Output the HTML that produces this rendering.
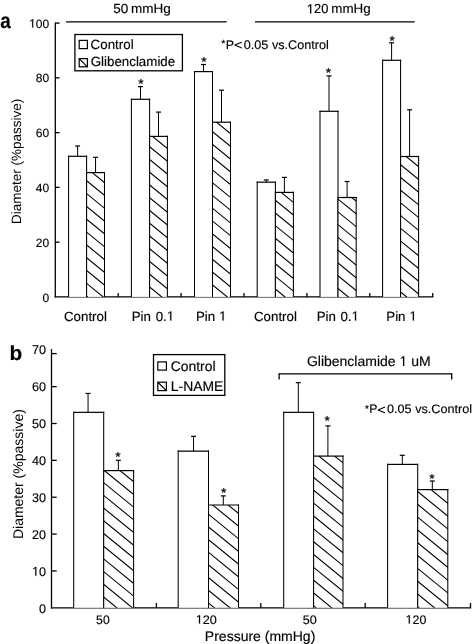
<!DOCTYPE html>
<html><head><meta charset="utf-8"><style>
html,body{margin:0;padding:0;background:#fff;}
body{width:476px;height:644px;overflow:hidden;}
svg{display:block;will-change:transform;}
text{font-family:"Liberation Sans",sans-serif;font-kerning:none;text-rendering:geometricPrecision;}
</style></head><body>
<svg width="476" height="644" viewBox="0 0 476 644">
<rect width="476" height="644" fill="#fff"/>
<text x="0.25" y="28.00" textLength="10.53" lengthAdjust="spacingAndGlyphs" style="font-size:21.5px;font-weight:bold;fill:#000;stroke:#000;stroke-width:0.15px;">a</text>
<line x1="55.30" y1="22.40" x2="55.30" y2="297.55" stroke="#000" stroke-width="1.3"/>
<line x1="54.65" y1="296.90" x2="433.25" y2="296.90" stroke="#000" stroke-width="1.3"/>
<text x="42.49" y="302.30" style="font-size:12px;fill:#000;stroke:#000;stroke-width:0.15px;">0</text>
<line x1="55.30" y1="242.14" x2="59.60" y2="242.14" stroke="#000" stroke-width="1.3"/>
<text x="35.82" y="246.64" style="font-size:12px;fill:#000;stroke:#000;stroke-width:0.15px;">20</text>
<line x1="55.30" y1="187.38" x2="59.60" y2="187.38" stroke="#000" stroke-width="1.3"/>
<text x="35.82" y="191.88" style="font-size:12px;fill:#000;stroke:#000;stroke-width:0.15px;">40</text>
<line x1="55.30" y1="132.62" x2="59.60" y2="132.62" stroke="#000" stroke-width="1.3"/>
<text x="35.82" y="137.12" style="font-size:12px;fill:#000;stroke:#000;stroke-width:0.15px;">60</text>
<line x1="55.30" y1="77.86" x2="59.60" y2="77.86" stroke="#000" stroke-width="1.3"/>
<text x="35.82" y="82.36" style="font-size:12px;fill:#000;stroke:#000;stroke-width:0.15px;">80</text>
<line x1="55.30" y1="23.10" x2="59.60" y2="23.10" stroke="#000" stroke-width="1.3"/>
<text x="29.15" y="27.60" style="font-size:12px;fill:#000;stroke:#000;stroke-width:0.15px;"> 00</text>
<polygon points="32.16,27.60 32.16,20.35 30.30,21.68 30.30,20.69 32.25,19.34 33.23,19.34 33.23,27.60" fill="#000" stroke="#000" stroke-width="0.15"/>
<line x1="118.20" y1="292.90" x2="118.20" y2="296.90" stroke="#000" stroke-width="1.3"/>
<line x1="181.10" y1="292.90" x2="181.10" y2="296.90" stroke="#000" stroke-width="1.3"/>
<line x1="244.00" y1="292.90" x2="244.00" y2="296.90" stroke="#000" stroke-width="1.3"/>
<line x1="306.90" y1="292.90" x2="306.90" y2="296.90" stroke="#000" stroke-width="1.3"/>
<line x1="369.80" y1="292.90" x2="369.80" y2="296.90" stroke="#000" stroke-width="1.3"/>
<line x1="432.70" y1="292.90" x2="432.70" y2="296.90" stroke="#000" stroke-width="1.3"/>
<text transform="translate(17.00,161.20) rotate(-90)" x="-62.78" y="3.49" style="font-size:13.5px">Diameter (%passive)</text>
<line x1="66.00" y1="21.90" x2="226.70" y2="21.90" stroke="#000" stroke-width="1.2"/>
<line x1="255.00" y1="21.90" x2="414.80" y2="21.90" stroke="#000" stroke-width="1.2"/>
<text x="113.26" y="13.45" textLength="15.07" lengthAdjust="spacingAndGlyphs" style="font-size:13.25px;fill:#000;stroke:#000;stroke-width:0.15px;">50</text>
<text x="130.90" y="13.45" textLength="39.87" lengthAdjust="spacingAndGlyphs" style="font-size:13.25px;fill:#000;stroke:#000;stroke-width:0.15px;">mmHg</text>
<text x="306.86" y="13.45" textLength="21.55" lengthAdjust="spacingAndGlyphs" style="font-size:13.25px;fill:#000;stroke:#000;stroke-width:0.15px;"> 20</text>
<polygon points="310.11,13.45 310.11,5.45 308.10,6.92 308.10,5.82 310.20,4.33 311.25,4.33 311.25,13.45" fill="#000" stroke="#000" stroke-width="0.15"/>
<text x="331.31" y="13.45" textLength="39.45" lengthAdjust="spacingAndGlyphs" style="font-size:13.25px;fill:#000;stroke:#000;stroke-width:0.15px;">mmHg</text>
<line x1="77.60" y1="156.30" x2="77.60" y2="146.00" stroke="#000" stroke-width="1.0"/>
<line x1="75.10" y1="146.00" x2="80.10" y2="146.00" stroke="#000" stroke-width="1.2"/>
<rect x="68.60" y="156.30" width="18.00" height="140.60" fill="#fff"/>
<line x1="68.60" y1="155.70" x2="68.60" y2="296.90" stroke="#000" stroke-width="1.05"/>
<line x1="86.60" y1="155.70" x2="86.60" y2="296.90" stroke="#000" stroke-width="1.05"/>
<line x1="68.07" y1="156.30" x2="87.12" y2="156.30" stroke="#000" stroke-width="1.2"/>
<line x1="95.55" y1="172.60" x2="95.55" y2="157.30" stroke="#000" stroke-width="1.0"/>
<line x1="93.05" y1="157.30" x2="98.05" y2="157.30" stroke="#000" stroke-width="1.2"/>
<rect x="86.60" y="172.60" width="17.90" height="124.30" fill="#fff"/>
<clipPath id="c38"><rect x="86.60" y="172.60" width="17.90" height="124.30"/></clipPath>
<path clip-path="url(#c38)" d="M84.60,140.70L106.50,158.54M84.60,153.52L106.50,171.37M84.60,166.35L106.50,184.19M84.60,179.17L106.50,197.02M84.60,192.00L106.50,209.84M84.60,204.82L106.50,222.67M84.60,217.65L106.50,235.49M84.60,230.47L106.50,248.32M84.60,243.30L106.50,261.14M84.60,256.12L106.50,273.97M84.60,268.94L106.50,286.79M84.60,281.77L106.50,299.62M84.60,294.60L106.50,312.44M84.60,307.42L106.50,325.27M84.60,320.25L106.50,338.09" stroke="#000" stroke-width="1.1" fill="none"/>
<line x1="86.60" y1="172.00" x2="86.60" y2="296.90" stroke="#000" stroke-width="1.05"/>
<line x1="104.50" y1="172.00" x2="104.50" y2="296.90" stroke="#000" stroke-width="1.05"/>
<line x1="86.07" y1="172.60" x2="105.03" y2="172.60" stroke="#000" stroke-width="1.2"/>
<line x1="140.50" y1="99.30" x2="140.50" y2="86.60" stroke="#000" stroke-width="1.0"/>
<line x1="138.00" y1="86.60" x2="143.00" y2="86.60" stroke="#000" stroke-width="1.2"/>
<rect x="131.40" y="99.30" width="18.20" height="197.60" fill="#fff"/>
<line x1="131.40" y1="98.70" x2="131.40" y2="296.90" stroke="#000" stroke-width="1.05"/>
<line x1="149.60" y1="98.70" x2="149.60" y2="296.90" stroke="#000" stroke-width="1.05"/>
<line x1="130.88" y1="99.30" x2="150.12" y2="99.30" stroke="#000" stroke-width="1.2"/>
<line x1="158.50" y1="136.40" x2="158.50" y2="112.10" stroke="#000" stroke-width="1.0"/>
<line x1="156.00" y1="112.10" x2="161.00" y2="112.10" stroke="#000" stroke-width="1.2"/>
<rect x="149.60" y="136.40" width="17.80" height="160.50" fill="#fff"/>
<clipPath id="c52"><rect x="149.60" y="136.40" width="17.80" height="160.50"/></clipPath>
<path clip-path="url(#c52)" d="M147.60,106.94L169.40,124.70M147.60,119.68L169.40,137.45M147.60,132.43L169.40,150.19M147.60,145.17L169.40,162.94M147.60,157.92L169.40,175.68M147.60,170.66L169.40,188.43M147.60,183.41L169.40,201.17M147.60,196.15L169.40,213.92M147.60,208.90L169.40,226.66M147.60,221.64L169.40,239.41M147.60,234.38L169.40,252.15M147.60,247.13L169.40,264.90M147.60,259.88L169.40,277.64M147.60,272.62L169.40,290.39M147.60,285.37L169.40,303.13M147.60,298.11L169.40,315.88M147.60,310.86L169.40,328.62" stroke="#000" stroke-width="1.1" fill="none"/>
<line x1="149.60" y1="135.80" x2="149.60" y2="296.90" stroke="#000" stroke-width="1.05"/>
<line x1="167.40" y1="135.80" x2="167.40" y2="296.90" stroke="#000" stroke-width="1.05"/>
<line x1="149.07" y1="136.40" x2="167.93" y2="136.40" stroke="#000" stroke-width="1.2"/>
<line x1="203.50" y1="71.60" x2="203.50" y2="64.50" stroke="#000" stroke-width="1.0"/>
<line x1="201.00" y1="64.50" x2="206.00" y2="64.50" stroke="#000" stroke-width="1.2"/>
<rect x="194.50" y="71.60" width="18.00" height="225.30" fill="#fff"/>
<line x1="194.50" y1="71.00" x2="194.50" y2="296.90" stroke="#000" stroke-width="1.05"/>
<line x1="212.50" y1="71.00" x2="212.50" y2="296.90" stroke="#000" stroke-width="1.05"/>
<line x1="193.97" y1="71.60" x2="213.03" y2="71.60" stroke="#000" stroke-width="1.2"/>
<line x1="221.50" y1="122.20" x2="221.50" y2="90.20" stroke="#000" stroke-width="1.0"/>
<line x1="219.00" y1="90.20" x2="224.00" y2="90.20" stroke="#000" stroke-width="1.2"/>
<rect x="212.50" y="122.20" width="18.00" height="174.70" fill="#fff"/>
<clipPath id="c66"><rect x="212.50" y="122.20" width="18.00" height="174.70"/></clipPath>
<path clip-path="url(#c66)" d="M210.50,91.77L232.50,109.70M210.50,104.54L232.50,122.47M210.50,117.30L232.50,135.23M210.50,130.07L232.50,148.00M210.50,142.84L232.50,160.77M210.50,155.60L232.50,173.53M210.50,168.37L232.50,186.30M210.50,181.14L232.50,199.07M210.50,193.90L232.50,211.83M210.50,206.67L232.50,224.60M210.50,219.44L232.50,237.37M210.50,232.21L232.50,250.14M210.50,244.97L232.50,262.90M210.50,257.74L232.50,275.67M210.50,270.51L232.50,288.44M210.50,283.27L232.50,301.20M210.50,296.04L232.50,313.97M210.50,308.81L232.50,326.74" stroke="#000" stroke-width="1.1" fill="none"/>
<line x1="212.50" y1="121.60" x2="212.50" y2="296.90" stroke="#000" stroke-width="1.05"/>
<line x1="230.50" y1="121.60" x2="230.50" y2="296.90" stroke="#000" stroke-width="1.05"/>
<line x1="211.97" y1="122.20" x2="231.03" y2="122.20" stroke="#000" stroke-width="1.2"/>
<line x1="266.30" y1="182.20" x2="266.30" y2="180.00" stroke="#000" stroke-width="1.0"/>
<line x1="263.80" y1="180.00" x2="268.80" y2="180.00" stroke="#000" stroke-width="1.2"/>
<rect x="257.20" y="182.20" width="18.20" height="114.70" fill="#fff"/>
<line x1="257.20" y1="181.60" x2="257.20" y2="296.90" stroke="#000" stroke-width="1.05"/>
<line x1="275.40" y1="181.60" x2="275.40" y2="296.90" stroke="#000" stroke-width="1.05"/>
<line x1="256.68" y1="182.20" x2="275.92" y2="182.20" stroke="#000" stroke-width="1.2"/>
<line x1="284.40" y1="192.40" x2="284.40" y2="177.40" stroke="#000" stroke-width="1.0"/>
<line x1="281.90" y1="177.40" x2="286.90" y2="177.40" stroke="#000" stroke-width="1.2"/>
<rect x="275.40" y="192.40" width="18.00" height="104.50" fill="#fff"/>
<clipPath id="c80"><rect x="275.40" y="192.40" width="18.00" height="104.50"/></clipPath>
<path clip-path="url(#c80)" d="M273.40,160.76L295.40,178.69M273.40,173.43L295.40,191.36M273.40,186.10L295.40,204.03M273.40,198.77L295.40,216.70M273.40,211.44L295.40,229.37M273.40,224.11L295.40,242.04M273.40,236.78L295.40,254.71M273.40,249.45L295.40,267.38M273.40,262.12L295.40,280.06M273.40,274.80L295.40,292.73M273.40,287.47L295.40,305.40M273.40,300.14L295.40,318.07M273.40,312.81L295.40,330.74" stroke="#000" stroke-width="1.1" fill="none"/>
<line x1="275.40" y1="191.80" x2="275.40" y2="296.90" stroke="#000" stroke-width="1.05"/>
<line x1="293.40" y1="191.80" x2="293.40" y2="296.90" stroke="#000" stroke-width="1.05"/>
<line x1="274.88" y1="192.40" x2="293.92" y2="192.40" stroke="#000" stroke-width="1.2"/>
<line x1="329.00" y1="111.30" x2="329.00" y2="75.90" stroke="#000" stroke-width="1.0"/>
<line x1="326.50" y1="75.90" x2="331.50" y2="75.90" stroke="#000" stroke-width="1.2"/>
<rect x="320.00" y="111.30" width="18.00" height="185.60" fill="#fff"/>
<line x1="320.00" y1="110.70" x2="320.00" y2="296.90" stroke="#000" stroke-width="1.05"/>
<line x1="338.00" y1="110.70" x2="338.00" y2="296.90" stroke="#000" stroke-width="1.05"/>
<line x1="319.48" y1="111.30" x2="338.52" y2="111.30" stroke="#000" stroke-width="1.2"/>
<line x1="347.10" y1="197.50" x2="347.10" y2="181.50" stroke="#000" stroke-width="1.0"/>
<line x1="344.60" y1="181.50" x2="349.60" y2="181.50" stroke="#000" stroke-width="1.2"/>
<rect x="338.00" y="197.50" width="18.20" height="99.40" fill="#fff"/>
<clipPath id="c94"><rect x="338.00" y="197.50" width="18.20" height="99.40"/></clipPath>
<path clip-path="url(#c94)" d="M336.00,159.16L358.20,177.25M336.00,171.93L358.20,190.02M336.00,184.70L358.20,202.79M336.00,197.47L358.20,215.56M336.00,210.24L358.20,228.33M336.00,223.01L358.20,241.10M336.00,235.78L358.20,253.88M336.00,248.55L358.20,266.65M336.00,261.32L358.20,279.42M336.00,274.10L358.20,292.19M336.00,286.87L358.20,304.96M336.00,299.64L358.20,317.73M336.00,312.41L358.20,330.50" stroke="#000" stroke-width="1.1" fill="none"/>
<line x1="338.00" y1="196.90" x2="338.00" y2="296.90" stroke="#000" stroke-width="1.05"/>
<line x1="356.20" y1="196.90" x2="356.20" y2="296.90" stroke="#000" stroke-width="1.05"/>
<line x1="337.48" y1="197.50" x2="356.72" y2="197.50" stroke="#000" stroke-width="1.2"/>
<line x1="391.60" y1="60.30" x2="391.60" y2="42.80" stroke="#000" stroke-width="1.0"/>
<line x1="389.10" y1="42.80" x2="394.10" y2="42.80" stroke="#000" stroke-width="1.2"/>
<rect x="382.60" y="60.30" width="18.00" height="236.60" fill="#fff"/>
<line x1="382.60" y1="59.70" x2="382.60" y2="296.90" stroke="#000" stroke-width="1.05"/>
<line x1="400.60" y1="59.70" x2="400.60" y2="296.90" stroke="#000" stroke-width="1.05"/>
<line x1="382.08" y1="60.30" x2="401.12" y2="60.30" stroke="#000" stroke-width="1.2"/>
<line x1="409.60" y1="156.50" x2="409.60" y2="109.80" stroke="#000" stroke-width="1.0"/>
<line x1="407.10" y1="109.80" x2="412.10" y2="109.80" stroke="#000" stroke-width="1.2"/>
<rect x="400.60" y="156.50" width="18.00" height="140.40" fill="#fff"/>
<clipPath id="c108"><rect x="400.60" y="156.50" width="18.00" height="140.40"/></clipPath>
<path clip-path="url(#c108)" d="M398.60,124.88L420.60,142.81M398.60,137.61L420.60,155.54M398.60,150.34L420.60,168.27M398.60,163.07L420.60,181.00M398.60,175.80L420.60,193.73M398.60,188.53L420.60,206.46M398.60,201.26L420.60,219.19M398.60,213.99L420.60,231.92M398.60,226.72L420.60,244.65M398.60,239.45L420.60,257.38M398.60,252.18L420.60,270.11M398.60,264.91L420.60,282.84M398.60,277.64L420.60,295.57M398.60,290.37L420.60,308.30M398.60,303.10L420.60,321.03M398.60,315.83L420.60,333.76" stroke="#000" stroke-width="1.1" fill="none"/>
<line x1="400.60" y1="155.90" x2="400.60" y2="296.90" stroke="#000" stroke-width="1.05"/>
<line x1="418.60" y1="155.90" x2="418.60" y2="296.90" stroke="#000" stroke-width="1.05"/>
<line x1="400.08" y1="156.50" x2="419.12" y2="156.50" stroke="#000" stroke-width="1.2"/>
<text x="138.23" y="87.61" textLength="5.34" lengthAdjust="spacingAndGlyphs" style="font-size:12.8px;fill:#000;stroke:#000;stroke-width:0.25px;">*</text>
<text x="201.28" y="65.71" textLength="5.34" lengthAdjust="spacingAndGlyphs" style="font-size:12.8px;fill:#000;stroke:#000;stroke-width:0.25px;">*</text>
<text x="325.78" y="77.31" textLength="5.34" lengthAdjust="spacingAndGlyphs" style="font-size:12.8px;fill:#000;stroke:#000;stroke-width:0.25px;">*</text>
<text x="389.63" y="45.21" textLength="5.34" lengthAdjust="spacingAndGlyphs" style="font-size:12.8px;fill:#000;stroke:#000;stroke-width:0.25px;">*</text>
<rect x="74.90" y="34.50" width="107.50" height="36.30" fill="#fff" stroke="#000" stroke-width="1.3"/>
<rect x="79.20" y="40.40" width="8.20" height="8.20" fill="#fff" stroke="#000" stroke-width="1.2"/>
<rect x="79.20" y="58.60" width="8.20" height="8.20" fill="#fff" stroke="#000" stroke-width="1.2"/>
<line x1="79.20" y1="58.60" x2="87.40" y2="66.80" stroke="#000" stroke-width="1.2"/>
<text x="90.62" y="48.50" textLength="43.07" lengthAdjust="spacingAndGlyphs" style="font-size:13.35px;fill:#000;stroke:#000;stroke-width:0.15px;">Control</text>
<text x="90.73" y="66.40" textLength="84.46" lengthAdjust="spacingAndGlyphs" style="font-size:13.35px;fill:#000;stroke:#000;stroke-width:0.15px;">Glibenclamide</text>
<text x="221.23" y="47.02" style="font-size:10.5px;fill:#000;stroke:#000;stroke-width:0.15px;">*</text>
<text x="225.78" y="48.60" style="font-size:12.45px;fill:#000;stroke:#000;stroke-width:0.15px;">P</text>
<polyline points="241.7,42.2 234.7,45.1 241.7,47.9" fill="none" stroke="#000" stroke-width="1.05" stroke-linejoin="bevel"/>
<text x="243.81" y="48.60" textLength="85.04" lengthAdjust="spacingAndGlyphs" style="font-size:12.45px;fill:#000;stroke:#000;stroke-width:0.15px;">0.05 vs.Control</text>
<text x="64.02" y="320.60" style="font-size:13.3px;fill:#000;stroke:#000;stroke-width:0.15px;">Control</text>
<text x="131.71" y="320.60" style="font-size:13.3px;fill:#000;stroke:#000;stroke-width:0.15px;">Pin</text>
<text x="195.91" y="320.60" style="font-size:13.3px;fill:#000;stroke:#000;stroke-width:0.15px;">Pin</text>
<text x="254.02" y="320.60" style="font-size:13.3px;fill:#000;stroke:#000;stroke-width:0.15px;">Control</text>
<text x="316.71" y="320.60" style="font-size:13.3px;fill:#000;stroke:#000;stroke-width:0.15px;">Pin</text>
<text x="386.31" y="320.60" style="font-size:13.3px;fill:#000;stroke:#000;stroke-width:0.15px;">Pin</text>
<text x="155.73" y="320.60" style="font-size:13.3px;fill:#000;stroke:#000;stroke-width:0.15px;">0. </text>
<polygon points="170.17,320.60 170.17,312.57 168.11,314.04 168.11,312.94 170.27,311.45 171.35,311.45 171.35,320.60" fill="#000" stroke="#000" stroke-width="0.15"/>
<text x="219.10" y="320.60" style="font-size:13.3px;fill:#000;stroke:#000;stroke-width:0.15px;"> </text>
<polygon points="222.44,320.60 222.44,312.57 220.38,314.04 220.38,312.94 222.54,311.45 223.62,311.45 223.62,320.60" fill="#000" stroke="#000" stroke-width="0.15"/>
<text x="340.48" y="320.60" style="font-size:13.3px;fill:#000;stroke:#000;stroke-width:0.15px;">0. </text>
<polygon points="354.92,320.60 354.92,312.57 352.86,314.04 352.86,312.94 355.02,311.45 356.10,311.45 356.10,320.60" fill="#000" stroke="#000" stroke-width="0.15"/>
<text x="409.45" y="320.60" style="font-size:13.3px;fill:#000;stroke:#000;stroke-width:0.15px;"> </text>
<polygon points="412.79,320.60 412.79,312.57 410.73,314.04 410.73,312.94 412.89,311.45 413.97,311.45 413.97,320.60" fill="#000" stroke="#000" stroke-width="0.15"/>
<text x="9.53" y="359.60" textLength="12.73" lengthAdjust="spacingAndGlyphs" style="font-size:20.3px;font-weight:bold;fill:#000;stroke:#000;stroke-width:0.15px;">b</text>
<line x1="51.50" y1="349.00" x2="51.50" y2="608.45" stroke="#000" stroke-width="1.3"/>
<line x1="50.85" y1="607.80" x2="471.15" y2="607.80" stroke="#000" stroke-width="1.3"/>
<text x="39.08" y="612.90" style="font-size:12.6px;fill:#000;stroke:#000;stroke-width:0.15px;">0</text>
<line x1="51.50" y1="570.94" x2="56.70" y2="570.94" stroke="#000" stroke-width="1.3"/>
<text x="32.08" y="575.64" style="font-size:12.6px;fill:#000;stroke:#000;stroke-width:0.15px;"> 0</text>
<polygon points="35.25,575.64 35.25,568.03 33.29,569.43 33.29,568.38 35.34,566.97 36.36,566.97 36.36,575.64" fill="#000" stroke="#000" stroke-width="0.15"/>
<line x1="51.50" y1="534.08" x2="56.70" y2="534.08" stroke="#000" stroke-width="1.3"/>
<text x="32.08" y="538.78" style="font-size:12.6px;fill:#000;stroke:#000;stroke-width:0.15px;">20</text>
<line x1="51.50" y1="497.22" x2="56.70" y2="497.22" stroke="#000" stroke-width="1.3"/>
<text x="32.08" y="501.92" style="font-size:12.6px;fill:#000;stroke:#000;stroke-width:0.15px;">30</text>
<line x1="51.50" y1="460.36" x2="56.70" y2="460.36" stroke="#000" stroke-width="1.3"/>
<text x="32.08" y="465.06" style="font-size:12.6px;fill:#000;stroke:#000;stroke-width:0.15px;">40</text>
<line x1="51.50" y1="423.50" x2="56.70" y2="423.50" stroke="#000" stroke-width="1.3"/>
<text x="32.08" y="428.20" style="font-size:12.6px;fill:#000;stroke:#000;stroke-width:0.15px;">50</text>
<line x1="51.50" y1="386.64" x2="56.70" y2="386.64" stroke="#000" stroke-width="1.3"/>
<text x="32.08" y="391.34" style="font-size:12.6px;fill:#000;stroke:#000;stroke-width:0.15px;">60</text>
<text x="32.08" y="354.48" style="font-size:12.6px;fill:#000;stroke:#000;stroke-width:0.15px;">70</text>
<line x1="51.50" y1="353.60" x2="56.70" y2="353.60" stroke="#000" stroke-width="1.3"/>
<line x1="156.40" y1="603.00" x2="156.40" y2="607.80" stroke="#000" stroke-width="1.3"/>
<line x1="260.80" y1="603.00" x2="260.80" y2="607.80" stroke="#000" stroke-width="1.3"/>
<line x1="365.20" y1="603.00" x2="365.20" y2="607.80" stroke="#000" stroke-width="1.3"/>
<line x1="470.50" y1="603.00" x2="470.50" y2="607.80" stroke="#000" stroke-width="1.3"/>
<text transform="translate(18.90,474.00) rotate(-90)" x="-65.10" y="3.62" style="font-size:14px">Diameter (%passive)</text>
<line x1="88.05" y1="412.35" x2="88.05" y2="393.45" stroke="#000" stroke-width="1.0"/>
<line x1="85.55" y1="393.45" x2="90.55" y2="393.45" stroke="#000" stroke-width="1.2"/>
<rect x="73.70" y="412.35" width="30.00" height="195.45" fill="#fff"/>
<line x1="73.70" y1="411.75" x2="73.70" y2="607.80" stroke="#000" stroke-width="1.05"/>
<line x1="103.70" y1="411.75" x2="103.70" y2="607.80" stroke="#000" stroke-width="1.05"/>
<line x1="73.17" y1="412.35" x2="104.23" y2="412.35" stroke="#000" stroke-width="1.2"/>
<line x1="118.35" y1="470.60" x2="118.35" y2="460.30" stroke="#000" stroke-width="1.0"/>
<line x1="115.85" y1="460.30" x2="120.85" y2="460.30" stroke="#000" stroke-width="1.2"/>
<rect x="103.70" y="470.60" width="29.90" height="137.20" fill="#fff"/>
<clipPath id="c174"><rect x="103.70" y="470.60" width="29.90" height="137.20"/></clipPath>
<path clip-path="url(#c174)" d="M101.70,430.24L135.60,457.87M101.70,442.95L135.60,470.58M101.70,455.66L135.60,483.29M101.70,468.37L135.60,496.00M101.70,481.08L135.60,508.71M101.70,493.79L135.60,521.42M101.70,506.50L135.60,534.13M101.70,519.21L135.60,546.84M101.70,531.92L135.60,559.55M101.70,544.63L135.60,572.26M101.70,557.34L135.60,584.97M101.70,570.05L135.60,597.68M101.70,582.76L135.60,610.39M101.70,595.47L135.60,623.10M101.70,608.18L135.60,635.81M101.70,620.89L135.60,648.52" stroke="#000" stroke-width="1.1" fill="none"/>
<line x1="103.70" y1="470.00" x2="103.70" y2="607.80" stroke="#000" stroke-width="1.05"/>
<line x1="133.60" y1="470.00" x2="133.60" y2="607.80" stroke="#000" stroke-width="1.05"/>
<line x1="103.17" y1="470.60" x2="134.12" y2="470.60" stroke="#000" stroke-width="1.2"/>
<line x1="193.55" y1="451.10" x2="193.55" y2="436.35" stroke="#000" stroke-width="1.0"/>
<line x1="191.05" y1="436.35" x2="196.05" y2="436.35" stroke="#000" stroke-width="1.2"/>
<rect x="178.20" y="451.10" width="30.30" height="156.70" fill="#fff"/>
<line x1="178.20" y1="450.50" x2="178.20" y2="607.80" stroke="#000" stroke-width="1.05"/>
<line x1="208.50" y1="450.50" x2="208.50" y2="607.80" stroke="#000" stroke-width="1.05"/>
<line x1="177.67" y1="451.10" x2="209.03" y2="451.10" stroke="#000" stroke-width="1.2"/>
<line x1="223.30" y1="505.00" x2="223.30" y2="495.90" stroke="#000" stroke-width="1.0"/>
<line x1="220.80" y1="495.90" x2="225.80" y2="495.90" stroke="#000" stroke-width="1.2"/>
<rect x="208.50" y="505.00" width="30.00" height="102.80" fill="#fff"/>
<clipPath id="c188"><rect x="208.50" y="505.00" width="30.00" height="102.80"/></clipPath>
<path clip-path="url(#c188)" d="M206.50,461.99L240.50,489.70M206.50,474.66L240.50,502.37M206.50,487.33L240.50,515.04M206.50,500.00L240.50,527.71M206.50,512.67L240.50,540.38M206.50,525.34L240.50,553.05M206.50,538.01L240.50,565.72M206.50,550.68L240.50,578.39M206.50,563.35L240.50,591.06M206.50,576.02L240.50,603.74M206.50,588.70L240.50,616.41M206.50,601.37L240.50,629.08M206.50,614.04L240.50,641.75M206.50,626.71L240.50,654.42" stroke="#000" stroke-width="1.1" fill="none"/>
<line x1="208.50" y1="504.40" x2="208.50" y2="607.80" stroke="#000" stroke-width="1.05"/>
<line x1="238.50" y1="504.40" x2="238.50" y2="607.80" stroke="#000" stroke-width="1.05"/>
<line x1="207.97" y1="505.00" x2="239.03" y2="505.00" stroke="#000" stroke-width="1.2"/>
<line x1="298.30" y1="412.35" x2="298.30" y2="382.66" stroke="#000" stroke-width="1.0"/>
<line x1="295.80" y1="382.66" x2="300.80" y2="382.66" stroke="#000" stroke-width="1.2"/>
<rect x="283.70" y="412.35" width="29.90" height="195.45" fill="#fff"/>
<line x1="283.70" y1="411.75" x2="283.70" y2="607.80" stroke="#000" stroke-width="1.05"/>
<line x1="313.60" y1="411.75" x2="313.60" y2="607.80" stroke="#000" stroke-width="1.05"/>
<line x1="283.18" y1="412.35" x2="314.12" y2="412.35" stroke="#000" stroke-width="1.2"/>
<line x1="327.90" y1="456.10" x2="327.90" y2="425.90" stroke="#000" stroke-width="1.0"/>
<line x1="325.40" y1="425.90" x2="330.40" y2="425.90" stroke="#000" stroke-width="1.2"/>
<rect x="313.60" y="456.10" width="29.40" height="151.70" fill="#fff"/>
<clipPath id="c202"><rect x="313.60" y="456.10" width="29.40" height="151.70"/></clipPath>
<path clip-path="url(#c202)" d="M311.60,411.59L345.00,438.81M311.60,424.44L345.00,451.66M311.60,437.28L345.00,464.50M311.60,450.12L345.00,477.35M311.60,462.97L345.00,490.19M311.60,475.82L345.00,503.04M311.60,488.66L345.00,515.88M311.60,501.51L345.00,528.73M311.60,514.35L345.00,541.57M311.60,527.20L345.00,554.42M311.60,540.04L345.00,567.26M311.60,552.88L345.00,580.11M311.60,565.73L345.00,592.95M311.60,578.58L345.00,605.80M311.60,591.42L345.00,618.64M311.60,604.26L345.00,631.49M311.60,617.11L345.00,644.33M311.60,629.96L345.00,657.18" stroke="#000" stroke-width="1.1" fill="none"/>
<line x1="313.60" y1="455.50" x2="313.60" y2="607.80" stroke="#000" stroke-width="1.05"/>
<line x1="343.00" y1="455.50" x2="343.00" y2="607.80" stroke="#000" stroke-width="1.05"/>
<line x1="313.08" y1="456.10" x2="343.52" y2="456.10" stroke="#000" stroke-width="1.2"/>
<line x1="402.30" y1="464.40" x2="402.30" y2="455.30" stroke="#000" stroke-width="1.0"/>
<line x1="399.80" y1="455.30" x2="404.80" y2="455.30" stroke="#000" stroke-width="1.2"/>
<rect x="387.60" y="464.40" width="30.10" height="143.40" fill="#fff"/>
<line x1="387.60" y1="463.80" x2="387.60" y2="607.80" stroke="#000" stroke-width="1.05"/>
<line x1="417.70" y1="463.80" x2="417.70" y2="607.80" stroke="#000" stroke-width="1.05"/>
<line x1="387.08" y1="464.40" x2="418.22" y2="464.40" stroke="#000" stroke-width="1.2"/>
<line x1="432.30" y1="489.60" x2="432.30" y2="481.00" stroke="#000" stroke-width="1.0"/>
<line x1="429.80" y1="481.00" x2="434.80" y2="481.00" stroke="#000" stroke-width="1.2"/>
<rect x="417.70" y="489.60" width="30.10" height="118.20" fill="#fff"/>
<clipPath id="c216"><rect x="417.70" y="489.60" width="30.10" height="118.20"/></clipPath>
<path clip-path="url(#c216)" d="M415.70,438.71L449.80,466.50M415.70,451.52L449.80,479.31M415.70,464.33L449.80,492.13M415.70,477.15L449.80,504.94M415.70,489.96L449.80,517.75M415.70,502.77L449.80,530.56M415.70,515.58L449.80,543.37M415.70,528.39L449.80,556.19M415.70,541.21L449.80,569.00M415.70,554.02L449.80,581.81M415.70,566.83L449.80,594.62M415.70,579.64L449.80,607.43M415.70,592.45L449.80,620.25M415.70,605.27L449.80,633.06M415.70,618.08L449.80,645.87M415.70,630.89L449.80,658.68" stroke="#000" stroke-width="1.1" fill="none"/>
<line x1="417.70" y1="489.00" x2="417.70" y2="607.80" stroke="#000" stroke-width="1.05"/>
<line x1="447.80" y1="489.00" x2="447.80" y2="607.80" stroke="#000" stroke-width="1.05"/>
<line x1="417.18" y1="489.60" x2="448.32" y2="489.60" stroke="#000" stroke-width="1.2"/>
<text x="115.33" y="460.91" textLength="5.34" lengthAdjust="spacingAndGlyphs" style="font-size:12.8px;fill:#000;stroke:#000;stroke-width:0.25px;">*</text>
<text x="220.93" y="497.31" textLength="5.34" lengthAdjust="spacingAndGlyphs" style="font-size:12.8px;fill:#000;stroke:#000;stroke-width:0.25px;">*</text>
<text x="324.63" y="425.21" textLength="5.34" lengthAdjust="spacingAndGlyphs" style="font-size:12.8px;fill:#000;stroke:#000;stroke-width:0.25px;">*</text>
<text x="429.33" y="483.01" textLength="5.34" lengthAdjust="spacingAndGlyphs" style="font-size:12.8px;fill:#000;stroke:#000;stroke-width:0.25px;">*</text>
<rect x="153.50" y="354.60" width="71.30" height="40.80" fill="#fff" stroke="#000" stroke-width="1.3"/>
<rect x="157.80" y="361.90" width="8.60" height="8.20" fill="#fff" stroke="#000" stroke-width="1.2"/>
<rect x="157.80" y="382.20" width="8.60" height="8.40" fill="#fff" stroke="#000" stroke-width="1.2"/>
<line x1="157.80" y1="382.20" x2="166.40" y2="390.60" stroke="#000" stroke-width="1.2"/>
<text x="170.69" y="371.00" style="font-size:13.9px;fill:#000;stroke:#000;stroke-width:0.15px;">Control</text>
<text x="170.86" y="391.20" style="font-size:13.9px;fill:#000;stroke:#000;stroke-width:0.15px;">L-NAME</text>
<line x1="279.10" y1="373.80" x2="451.70" y2="373.80" stroke="#000" stroke-width="1.3"/>
<line x1="279.10" y1="373.20" x2="279.10" y2="379.60" stroke="#000" stroke-width="1.3"/>
<line x1="451.70" y1="373.20" x2="451.70" y2="379.60" stroke="#000" stroke-width="1.3"/>
<text x="306.90" y="366.00" style="font-size:14.0px;fill:#000;stroke:#000;stroke-width:0.15px;">Glibenclamide   uM</text>
<polygon points="403.02,366.00 403.02,357.54 400.84,359.10 400.84,357.93 403.12,356.37 404.25,356.37 404.25,366.00" fill="#000" stroke="#000" stroke-width="0.15"/>
<text x="364.94" y="411.58" style="font-size:10.0px;fill:#000;stroke:#000;stroke-width:0.15px;">*</text>
<text x="369.30" y="413.10" style="font-size:12.25px;fill:#000;stroke:#000;stroke-width:0.15px;">P</text>
<polyline points="385.0,407.0 378.0,409.9 385.0,412.8" fill="none" stroke="#000" stroke-width="1.05" stroke-linejoin="bevel"/>
<text x="387.01" y="413.10" textLength="85.14" lengthAdjust="spacingAndGlyphs" style="font-size:12.25px;fill:#000;stroke:#000;stroke-width:0.15px;">0.05 vs.Control</text>
<text x="96.11" y="623.60" textLength="13.56" lengthAdjust="spacingAndGlyphs" style="font-size:12.3px;fill:#000;stroke:#000;stroke-width:0.15px;">50</text>
<text x="195.78" y="623.60" textLength="21.11" lengthAdjust="spacingAndGlyphs" style="font-size:12.3px;fill:#000;stroke:#000;stroke-width:0.15px;"> 20</text>
<polygon points="198.96,623.60 198.96,616.17 197.00,617.53 197.00,616.51 199.06,615.14 200.08,615.14 200.08,623.60" fill="#000" stroke="#000" stroke-width="0.15"/>
<text x="302.70" y="623.60" textLength="14.00" lengthAdjust="spacingAndGlyphs" style="font-size:12.3px;fill:#000;stroke:#000;stroke-width:0.15px;">50</text>
<text x="405.60" y="623.60" textLength="20.78" lengthAdjust="spacingAndGlyphs" style="font-size:12.3px;fill:#000;stroke:#000;stroke-width:0.15px;"> 20</text>
<polygon points="408.73,623.60 408.73,616.17 406.80,617.53 406.80,616.51 408.83,615.14 409.84,615.14 409.84,623.60" fill="#000" stroke="#000" stroke-width="0.15"/>
<text x="204.85" y="640.60" style="font-size:14.0px;fill:#000;stroke:#000;stroke-width:0.15px;">Pressure (mmHg)</text>
</svg>
</body></html>
